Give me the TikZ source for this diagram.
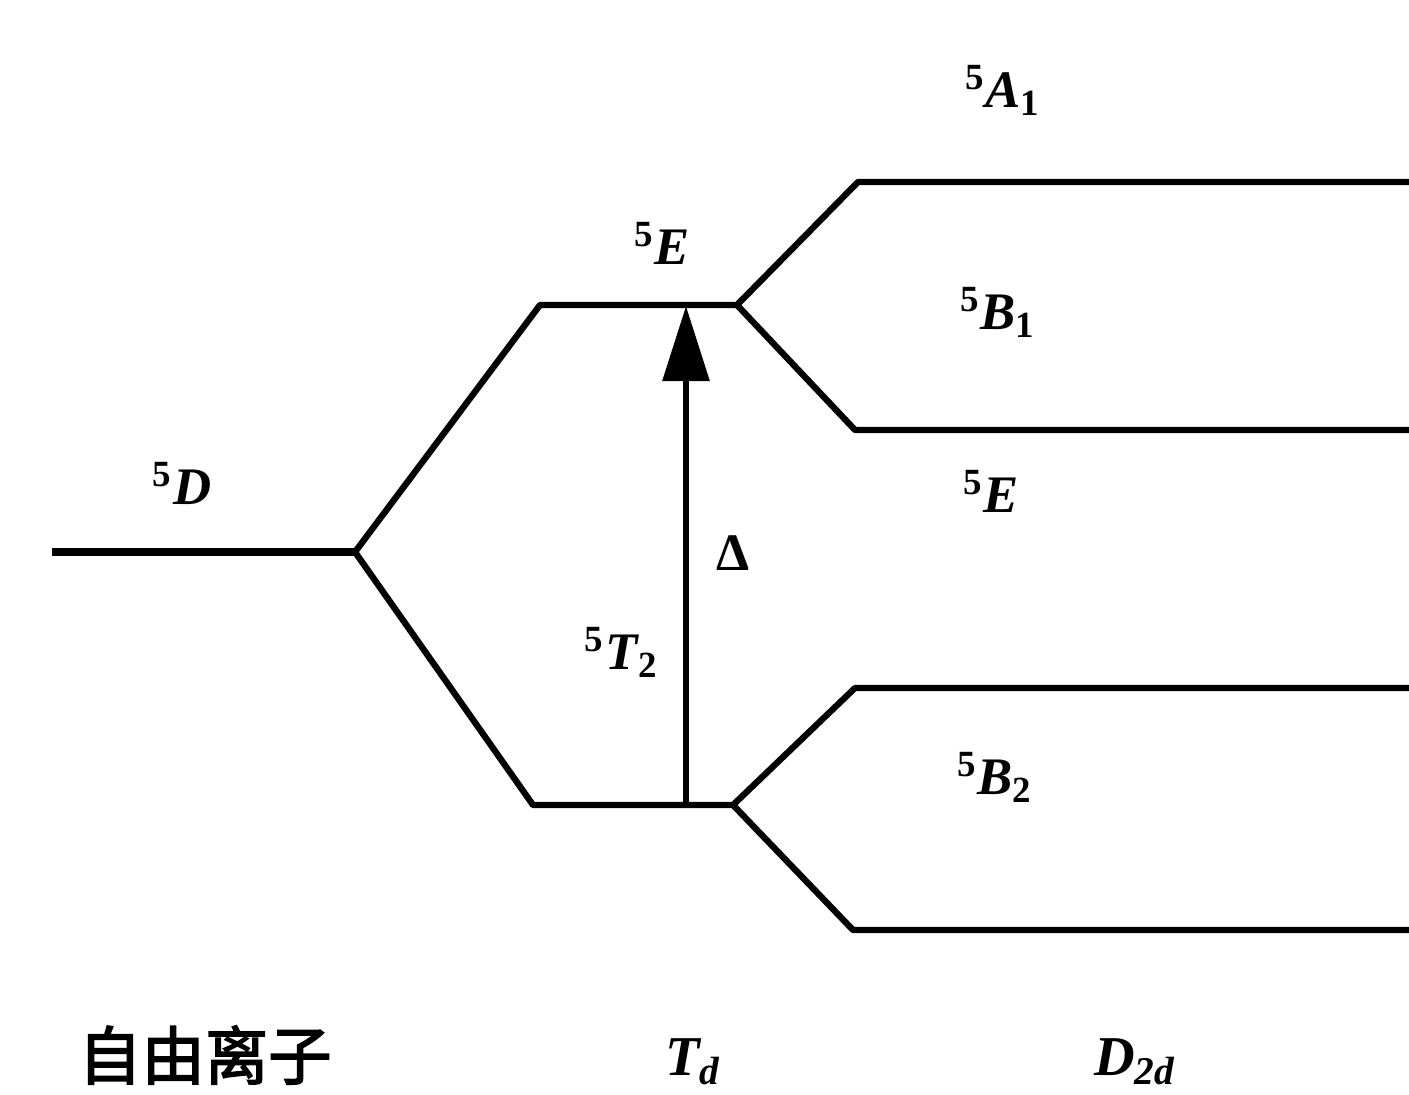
\documentclass[tikz,border=0pt]{standalone}
\usepackage{fontspec}
\setmainfont{Liberation Serif}
\newfontfamily\cjk[FakeBold=2.5]{Noto Sans CJK SC}
\usetikzlibrary{arrows.meta}
\newcommand\lvl[3]{{\upshape\textsuperscript{#1}}\textit{#2}\textsubscript{#3}}

\begin{document}
\begin{tikzpicture}[x=0.01cm, y=-0.01cm,
  level/.style={line width=1.8pt, line join=round},
  free/.style={line width=2.4pt},
  term/.style={font=\fontsize{15}{18}\selectfont\bfseries, inner sep=0pt},
  grp/.style={font=\fontsize{16}{18}\selectfont\bfseries\itshape, inner sep=0pt},
  arr/.style={-{Triangle[length=7.5mm, width=4.6mm]}, line width=1.7pt}]
  \useasboundingbox (0,0) rectangle (1409,1095);
  % end points of the levels
  \coordinate (d0) at (52,552);   \coordinate (d1) at (355,552);
  \coordinate (e0) at (540,305);  \coordinate (e1) at (737,305);
  \coordinate (t0) at (533,805);  \coordinate (t1) at (733,805);
  \coordinate (a0) at (858,182);  \coordinate (a1) at (1409,182);
  \coordinate (b0) at (855,430);  \coordinate (b1) at (1409,430);
  \coordinate (c0) at (855,688);  \coordinate (c1) at (1409,688);
  \coordinate (f0) at (853,930);  \coordinate (f1) at (1409,930);
  \coordinate (lo) at (686,805);  \coordinate (up) at (686,306);
  % levels
  \draw[free] (d0) -- (d1);
  \draw[level] (e1) -- (e0) -- (d1) -- (t0) -- (t1);
  \draw[level] (a1) -- (a0) -- (e1) -- (b0) -- (b1);
  \draw[level] (c1) -- (c0) -- (t1) -- (f0) -- (f1);
  \draw[arr] (lo) -- (up);
  % labels
  \node[term] (lD) at (183,487) {\lvl{5}{D}{}};
  \node[term] (lE) at (663,247) {\lvl{5}{E}{}};
  \node[term] (lT) at (622,652) {\lvl{5}{T}{2}};
  \node[term] (lDelta) at (733,553) {Δ};
  \node[term] (lA) at (1003,90) {\lvl{5}{A}{1}};
  \node[term] (lB1) at (998,312) {\lvl{5}{B}{1}};
  \node[term] (lE2) at (992,495) {\lvl{5}{E}{}};
  \node[term] (lB2) at (995,777) {\lvl{5}{B}{2}};
  \node[inner sep=0pt, font=\cjk\fontsize{18}{20}\selectfont] (gfree) at (205,1055) {自由离子};
  \node[grp] (gTd) at (693,1062) {T\textsubscript{d}};
  \node[grp] (gD) at (1135,1062) {D\textsubscript{2d}};
\end{tikzpicture}
\end{document}
